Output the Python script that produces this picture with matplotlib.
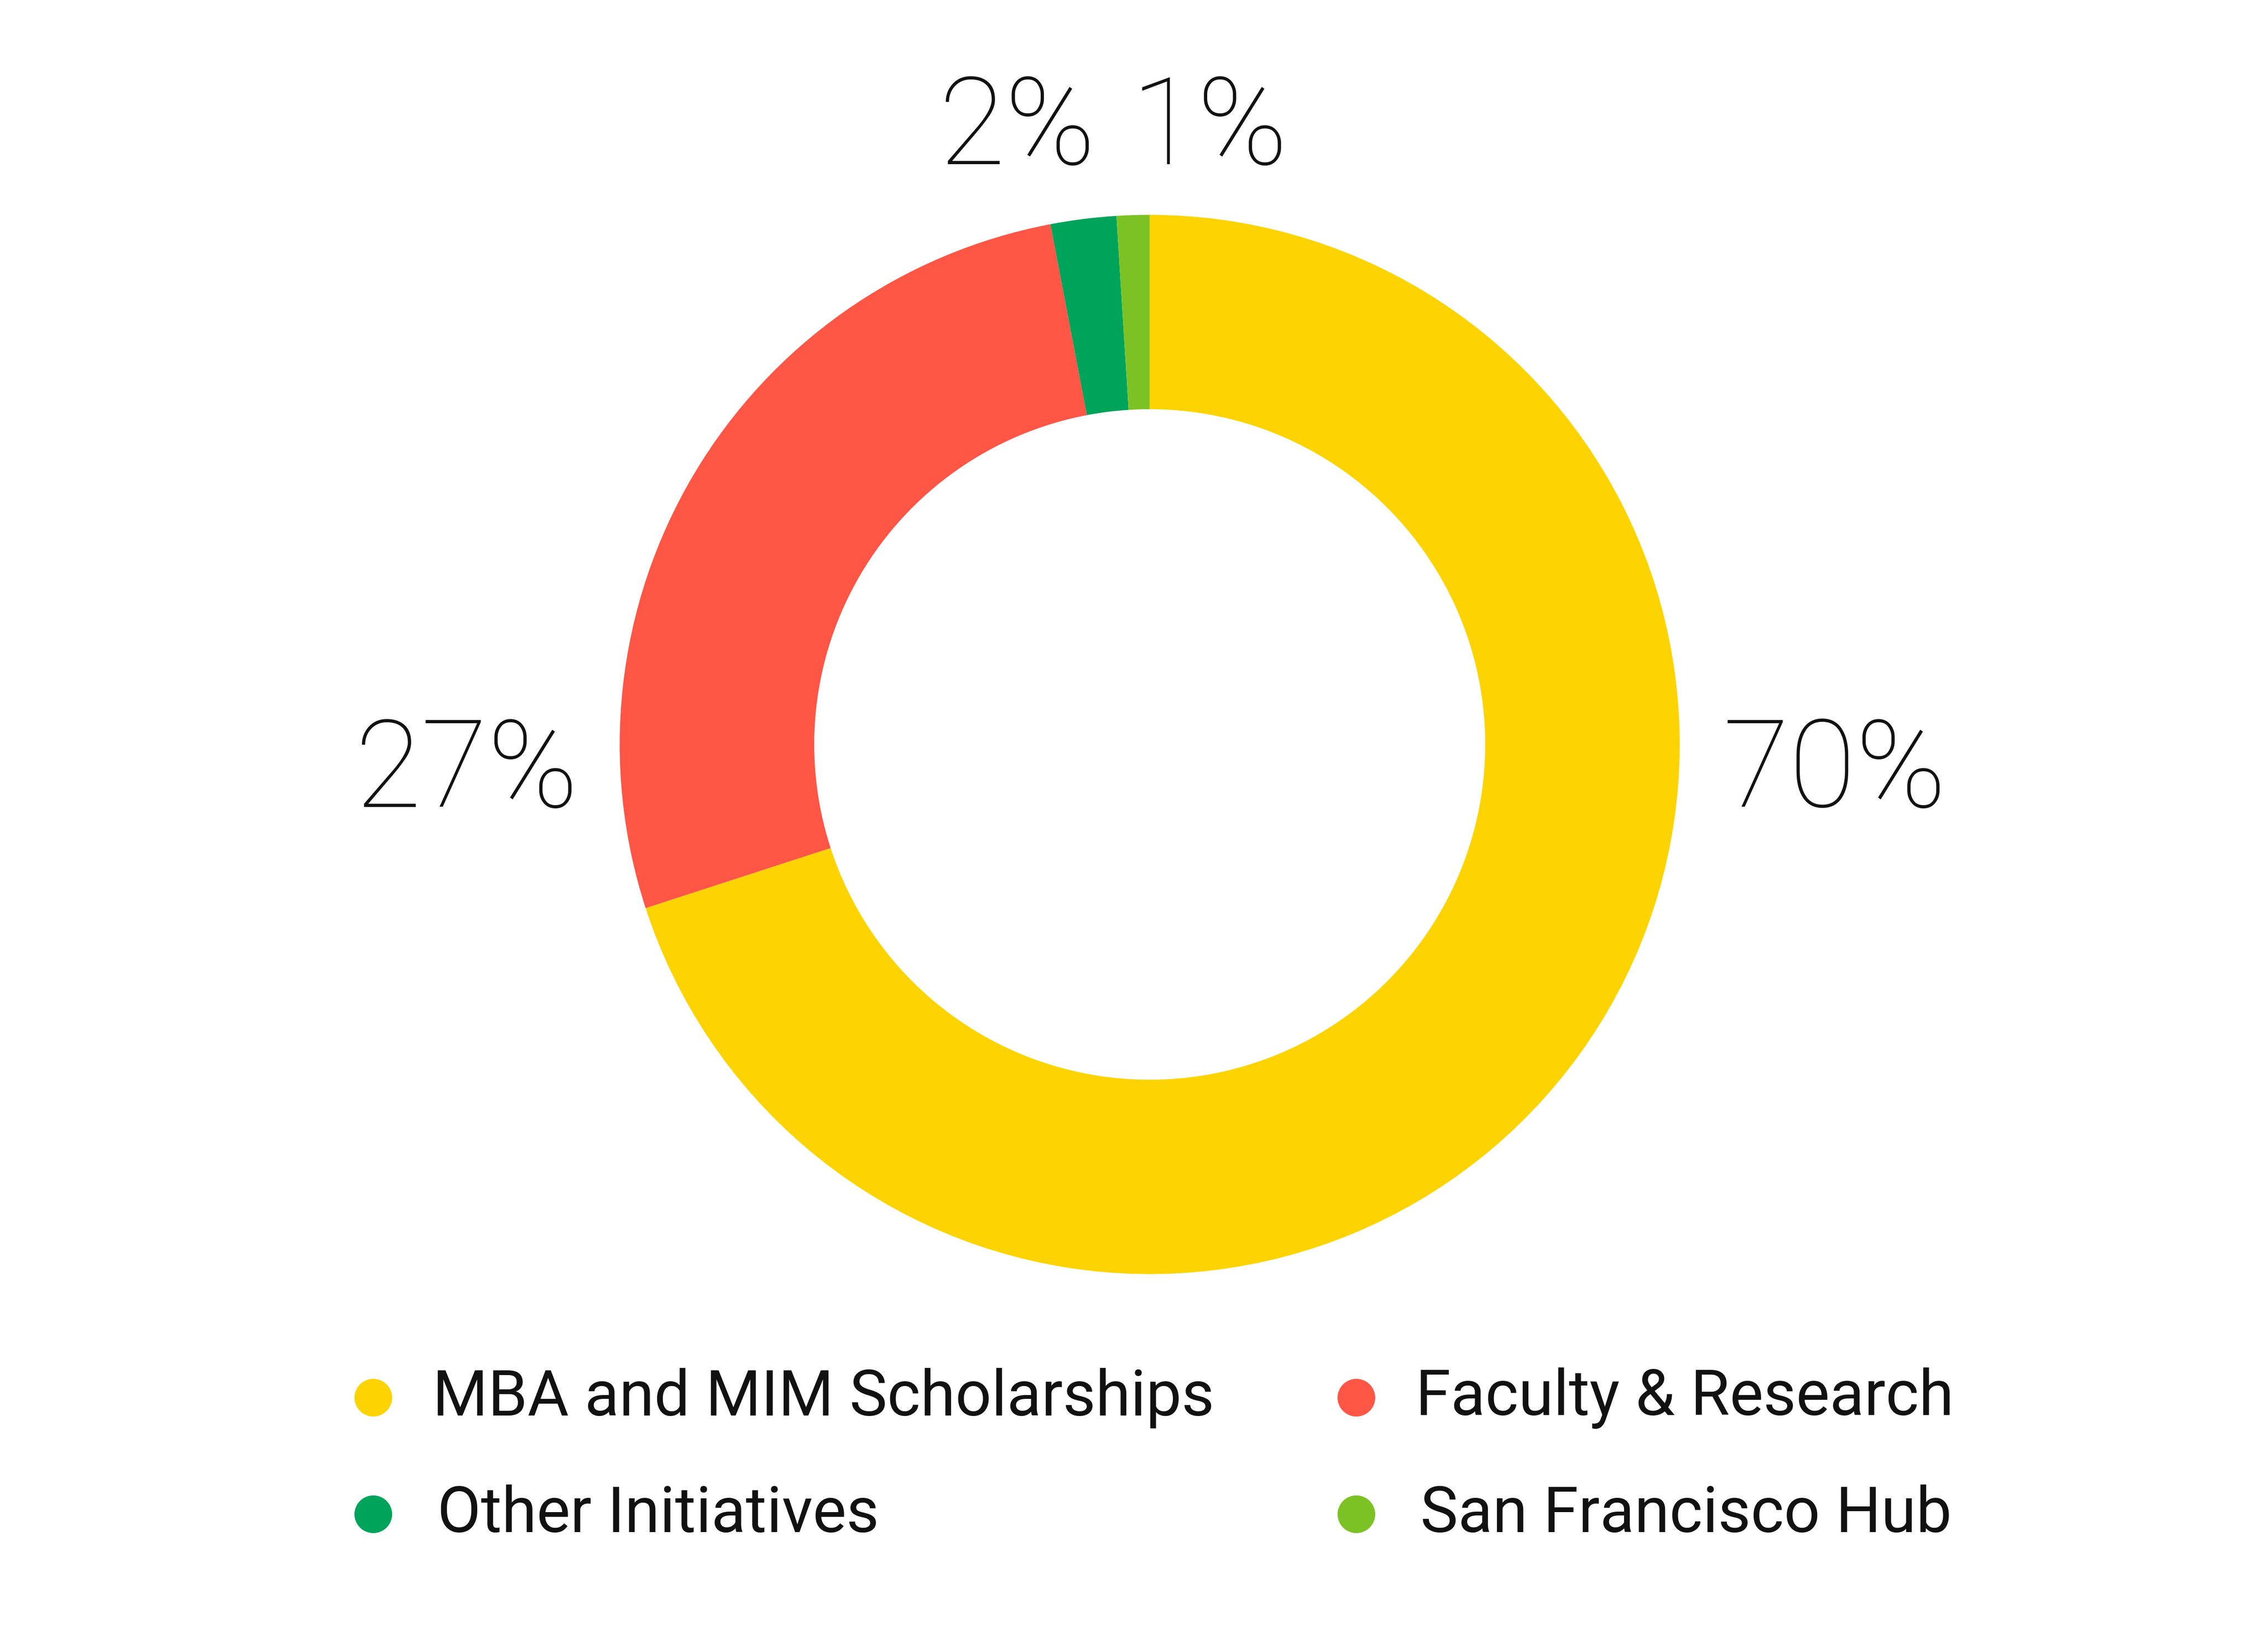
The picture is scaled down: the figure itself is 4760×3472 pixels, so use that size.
import matplotlib
matplotlib.use("Agg")
import matplotlib.pyplot as plt

labels = ["MBA and MIM Scholarships", "Faculty & Research", "Other Initiatives", "San Francisco Hub"]
values = [70, 27, 2, 1]
colors = ["#FDD402", "#FF5646", "#00A35A", "#7DC225"]
pct_text = ["70%", "27%", "2%", "1%"]

fig = plt.figure(figsize=(47.6, 34.73), dpi=100)
fig.patch.set_facecolor("white")

ax = fig.add_axes([0.2736, 0.2287, 0.468, 0.641])
ax.pie(values, colors=colors, startangle=90, counterclock=False, radius=1,
       wedgeprops=dict(width=0.367, linewidth=0))
ax.set_xlim(-1, 1)
ax.set_ylim(-1, 1)
ax.set_aspect("auto")
ax.axis("off")

# percentage labels
pct_pos = [(0.81, 0.532), (0.206, 0.532), (0.449, 0.921), (0.534, 0.921)]
for t, (x, y) in zip(pct_text, pct_pos):
    fig.text(x, y, t, ha="center", va="center", fontsize=184,
             family="Roboto", fontweight="light", color="#111111")

# legend
ov = fig.add_axes([0, 0, 1, 1])
ov.set_xlim(0, 1)
ov.set_ylim(0, 1)
ov.axis("off")
marker_pos = [(0.1647, 0.154), (0.5987, 0.154), (0.1647, 0.0835), (0.5987, 0.0835)]
text_x = [0.191, 0.625, 0.193, 0.627]
for lab, c, (mx, my), tx in zip(labels, colors, marker_pos, text_x):
    ov.plot([mx], [my], "o", color=c, markersize=56)
    ov.text(tx, my, lab, ha="left", va="center", fontsize=96,
            family="Roboto", fontweight="normal", color="#111111")

fig.savefig("out.png", dpi=100, facecolor="white")
